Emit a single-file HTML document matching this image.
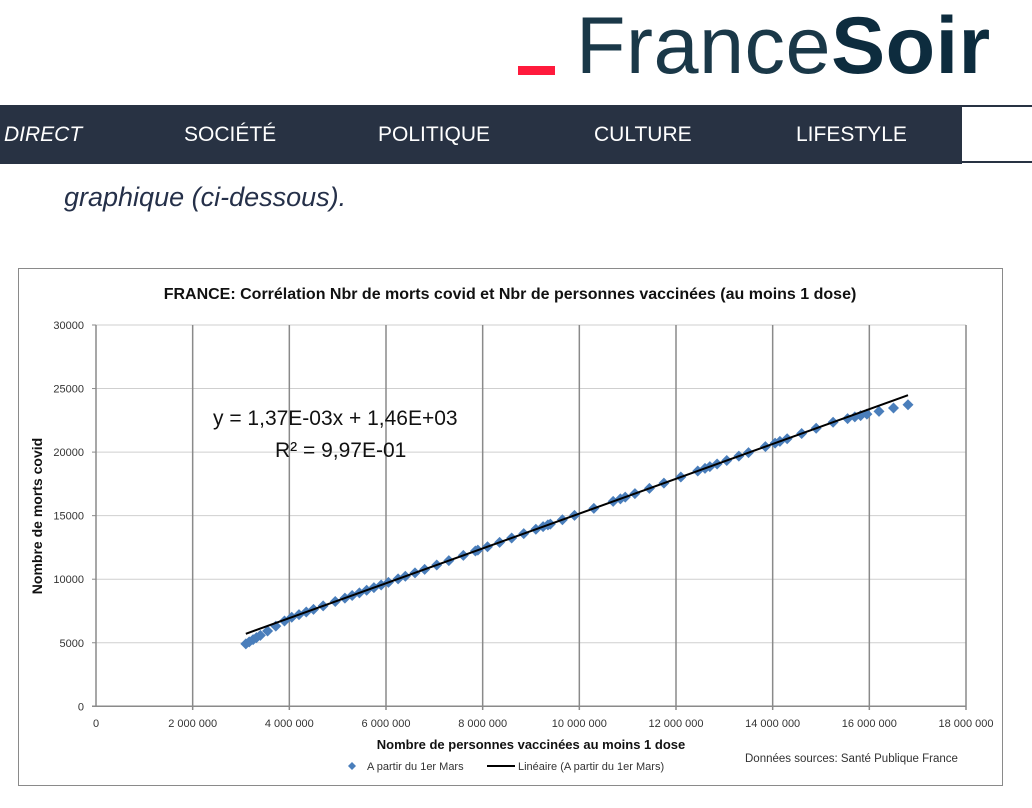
<!DOCTYPE html>
<html><head><meta charset="utf-8"><style>
body{margin:0;width:1032px;height:808px;background:#fff;overflow:hidden;position:relative;font-family:"Liberation Sans",sans-serif}
.nav{position:absolute;left:0;top:105px;width:962px;height:59px;background:#283243}
.nav span{position:absolute;top:18px;color:#fff;font-size:21px}
.wbox{position:absolute;left:962px;top:105px;width:80px;height:58px;border-top:2px solid #283243;border-bottom:2px solid #283243;box-sizing:border-box}
</style></head><body>
<div style="position:absolute;left:518px;top:66px;width:37px;height:9px;background:#ff1a3c"></div>
<div style="position:absolute;left:576px;top:-4px;font-size:81px;color:#0d2c3e;letter-spacing:0.5px;line-height:100px"><span style="color:#1a3848">France</span><b>Soir</b></div>
<div class="nav">
<span style="left:4px;font-style:italic">DIRECT</span>
<span style="left:184px">SOCIÉTÉ</span>
<span style="left:378px">POLITIQUE</span>
<span style="left:594px">CULTURE</span>
<span style="left:796px">LIFESTYLE</span>
</div>
<div class="wbox"></div>
<div style="position:absolute;left:64px;top:182px;font-size:27px;font-style:italic;color:#253049">graphique (ci-dessous).</div>
<svg id="c" style="position:absolute;left:0;top:0" width="1032" height="808"></svg>
<script>
var s='';
s+='<rect x="18.5" y="268.5" width="984" height="517" fill="#fff" stroke="#8a8a8a"/>';
function X(v){return 96+v/18e6*870}
function Y(v){return 706.3-v/30000*381.3}
for(var i=1;i<=6;i++){var y=Y(i*5000);s+='<line x1="96" x2="966" y1="'+y+'" y2="'+y+'" stroke="#cfcfcf"/>';}
for(var i=1;i<=9;i++){var x=X(i*2e6);s+='<line x1="'+x+'" x2="'+x+'" y1="325" y2="710" stroke="#8a8a8a" stroke-width="1.5"/>';}
s+='<line x1="96" x2="96" y1="325" y2="706" stroke="#8a8a8a" stroke-width="1.5"/>';
s+='<line x1="92" x2="966" y1="706.3" y2="706.3" stroke="#8a8a8a" stroke-width="1.5"/>';
for(var i=0;i<=6;i++){var y=Y(i*5000);s+='<line x1="92" x2="96" y1="'+y+'" y2="'+y+'" stroke="#8a8a8a"/><text x="84" y="'+(y+4)+'" font-size="11" text-anchor="end" fill="#333">'+(i*5000)+'</text>';}
var lab=['0','2 000 000','4 000 000','6 000 000','8 000 000','10 000 000','12 000 000','14 000 000','16 000 000','18 000 000'];
for(var i=0;i<=9;i++){s+='<text x="'+X(i*2e6)+'" y="727" font-size="11" text-anchor="middle" fill="#333">'+lab[i]+'</text>';}
var xs=[3.1,3.17,3.25,3.32,3.4,3.55,3.72,3.9,4.05,4.2,4.35,4.5,4.7,4.95,5.15,5.3,5.45,5.6,5.75,5.9,6.05,6.25,6.4,6.6,6.8,7.05,7.3,7.6,7.85,7.9,8.1,8.35,8.6,8.85,9.1,9.25,9.35,9.4,9.65,9.9,10.3,10.7,10.85,10.95,11.15,11.45,11.75,12.1,12.45,12.6,12.7,12.85,13.05,13.3,13.5,13.85,14.05,14.15,14.3,14.6,14.9,15.25,15.55,15.7,15.82,15.95,16.2,16.5,16.8];
for(var i=0;i<xs.length;i++){var v=xs[i];var y=1370*v+1460;
 if(v<4)y-= (4-v)/0.9*800; if(v>15.3)y-=(v-15.3)/1.5*750;
 var px=X(v*1e6),py=Y(y);s+='<path d="M'+px+' '+(py-5.5)+'L'+(px+5.5)+' '+py+'L'+px+' '+(py+5.5)+'L'+(px-5.5)+' '+py+'Z" fill="#4a7ebb"/>';}
s+='<line x1="'+X(3.1e6)+'" y1="'+Y(5707)+'" x2="'+X(16.8e6)+'" y2="'+Y(24476)+'" stroke="#000" stroke-width="2"/>';
s+='<text x="510" y="299" font-size="16" font-weight="bold" text-anchor="middle" fill="#111">FRANCE: Corrélation Nbr de morts covid et Nbr de personnes vaccinées (au moins 1 dose)</text>';
s+='<text x="213" y="425" font-size="21" fill="#111">y = 1,37E-03x + 1,46E+03</text>';
s+='<text x="275" y="457" font-size="21" fill="#111">R² = 9,97E-01</text>';
s+='<text transform="translate(42,516) rotate(-90)" font-size="14" font-weight="bold" text-anchor="middle" fill="#111">Nombre de morts covid</text>';
s+='<text x="531" y="749" font-size="13" font-weight="bold" text-anchor="middle" fill="#111">Nombre de personnes vaccinées au moins 1 dose</text>';
s+='<path d="M352 762L356 766L352 770L348 766Z" fill="#4a7ebb"/><text x="367" y="770" font-size="11" fill="#333">A partir du 1er Mars</text>';
s+='<line x1="487" x2="515" y1="766" y2="766" stroke="#000" stroke-width="2"/><text x="518" y="770" font-size="11" fill="#333">Linéaire (A partir du 1er Mars)</text>';
s+='<text x="745" y="762" font-size="11.5" fill="#333">Données sources: Santé Publique France</text>';
document.getElementById('c').innerHTML=s;
</script>
</body></html>
